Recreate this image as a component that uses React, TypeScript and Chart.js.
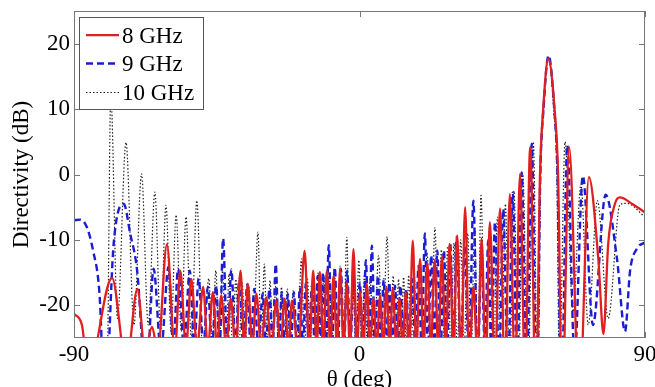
import React, { useEffect, useRef } from 'react';
import { Chart, registerables } from 'chart.js';

Chart.register(...registerables);

const xTicks = [-90, 0, 90];
const yTicks = [-20, -10, 0, 10, 20];
const seriesLabels = ['8 GHz', '9 GHz', '10 GHz'];

// [theta (deg), directivity (dB)]
const dir8GHz: [number, number][] = [
  [-90, -21.3], [-87.5, -23], [-85.5, -30], [-78, -15.8], [-73.5, -29], [-70, -17.5], [-67.6, -27], [-65.4, -23.3],
  [-63.6, -27], [-60.7, -10.7], [-58.2, -27], [-56.5, -14.7], [-54.7, -26.5], [-53, -16], [-51.2, -26.5], [-49.3, -17.2],
  [-47.8, -26.5], [-46.2, -18], [-44.9, -26.5], [-43.6, -18.5], [-42, -26.5], [-40.6, -19], [-39, -27], [-37.5, -14.7],
  [-36.3, -26.5], [-35.2, -16.7], [-33.8, -26.5], [-32.5, -18.2], [-31, -26.5], [-29.4, -18.8], [-27.8, -26.5], [-26.2, -19.3],
  [-24.9, -26.5], [-23.6, -19], [-22.4, -26.5], [-21.3, -19.3], [-19.3, -27], [-17.3, -11.7], [-15.8, -27], [-14.6, -14.7],
  [-13.5, -26.5], [-12.5, -14.9], [-11.4, -26.5], [-10.3, -14.7], [-9.2, -26.5], [-8.2, -15.5], [-7.1, -26.5], [-6.1, -14.4],
  [-5, -26.5], [-4, -16.5], [-3, -27], [-1.9, -11.4], [-0.8, -27], [0.2, -18], [1.2, -26.5], [2.3, -16.7], [3.3, -26.5],
  [4.4, -19], [5.4, -26.5], [6.5, -18.5], [7.5, -26.5], [8.5, -17.2], [9.5, -26.5], [10.5, -17.4], [11.6, -26.5], [12.6, -19],
  [13.6, -26.5], [14.6, -18], [15.6, -27], [16.8, -10.1], [17.9, -27], [19.1, -12.9], [20.2, -26.5], [21.4, -13.5],
  [22.5, -26.5], [23.7, -13.1], [24.8, -26.5], [26, -12.6], [27.2, -27], [28.4, -10.6], [29.6, -27], [30.8, -9.3],
  [32, -29], [33.3, -5], [34.6, -29], [35.9, -17.2], [37.2, -28], [38.5, -9.8], [39.8, -29], [41.1, -7.3], [42.7, -30],
  [44.3, -5.2], [45.8, -31], [47.4, -3], [49, -31], [50.6, 0.1], [52.2, -32], [53.8, 4.2], [55.6, -35], [56.9, 0],
  [57.9, 10], [59.5, 17.7], [61.5, 10], [62.6, 0], [63.9, -35], [66.1, 4.2], [69.3, -35], [72.3, -0.4], [75.3, -13],
  [76.9, -24.4], [78.4, -10.6], [80.5, -4.5], [82.1, -3.5], [86, -4.5], [90, -5.8],
];

const dir9GHz: [number, number][] = [
  [-90, -7], [-88, -6.9], [-86, -8], [-84, -11.6], [-82, -18], [-80.2, -35], [-77.5, -10.6], [-74.3, -4.5],
  [-72.3, -9], [-70.1, -14.7], [-67.2, -32], [-64.9, -14.4], [-62.6, -27], [-60.2, -14.1], [-58.7, -26.5], [-57.2, -14.4],
  [-55.3, -26.5], [-53.5, -14.7], [-52.1, -26.5], [-50.7, -15.9], [-49.2, -26.5], [-47.8, -17.2], [-46.5, -26.5], [-45.2, -17],
  [-44.1, -27], [-43, -9.8], [-41.7, -27], [-40.4, -14.5], [-39.1, -26.5], [-37.9, -16], [-36.6, -26.5], [-35.4, -16.8],
  [-34.3, -26.5], [-33.2, -17.5], [-31.9, -26.5], [-30.5, -18.2], [-29.5, -26.5], [-28.4, -17.5], [-27.4, -26.5], [-26.4, -13.7],
  [-25.4, -26.5], [-24.5, -18], [-23.5, -26.5], [-22.6, -18.3], [-21.6, -26.5], [-20.7, -18], [-19.7, -26.5], [-18.8, -17.2],
  [-17.8, -26.5], [-16.9, -16.5], [-16, -26.5], [-15, -17], [-14.1, -26.5], [-13.2, -15.5], [-12.3, -26.5], [-11.5, -15],
  [-10.6, -27], [-9.7, -10.8], [-8.7, -27], [-7.8, -14.2], [-6.8, -26.5], [-5.9, -14.4], [-4.9, -26.5], [-3.9, -14.7],
  [-2.9, -26.5], [-1.9, -15.5], [-0.9, -26.5], [0.1, -16.5], [1.1, -26.5], [2, -13.1], [3, -27], [3.9, -10.9], [4.9, -27],
  [5.8, -15.5], [6.7, -26.5], [7.6, -16], [8.5, -26.5], [9.4, -16.5], [10.3, -26.5], [11.2, -17], [12.1, -26.5], [12.9, -17],
  [13.8, -26.5], [14.7, -17.5], [15.7, -26.5], [16.6, -16], [17.6, -26.5], [18.6, -14], [19.6, -27], [20.6, -9], [21.6, -27],
  [22.6, -12.4], [23.6, -26.5], [24.5, -11.6], [25.6, -26.5], [26.6, -11.6], [27.6, -27], [28.6, -10.5], [29.6, -27],
  [30.6, -9.6], [31.9, -27], [33.2, -11], [34.5, -29], [35.9, -4], [37.2, -29], [38.5, -12], [39.5, -27], [40.6, -10],
  [41.6, -29], [42.7, -7.3], [44, -30], [45.3, -5.3], [46.8, -31], [48.3, -2.8], [49.7, -31], [51.1, 0.3], [52.7, -32],
  [54.3, 4.7], [55.9, -35], [57, 0], [58, 10], [59.6, 18.2], [61.4, 10], [62.4, 0], [63.6, -35], [65.5, 4.5],
  [67.8, -28], [70.4, -0.2], [73.6, -23], [77.6, -3.1], [81.2, -13], [83.7, -24], [85.3, -14.7], [87.5, -11.3],
  [90, -10.4],
];

const dir10GHz: [number, number][] = [
  [-90, -32], [-86, -27], [-82.5, -40], [-79.6, -32], [-78.4, 12], [-76.3, -22], [-73.6, 4.9], [-71.1, -23],
  [-68.7, 0.1], [-66.6, -23], [-64.5, -2.7], [-62.7, -24], [-61, -4.7], [-59.4, -24], [-57.8, -6.2], [-56.2, -24],
  [-54.7, -6.5], [-53, -25], [-51.3, -4], [-49.4, -27], [-47.5, -15.9], [-46.4, -26.5], [-45.3, -14.7], [-44.2, -26.5],
  [-43.2, -14.7], [-42.1, -26.5], [-41.1, -15.2], [-40, -26.5], [-39, -16], [-38, -26.5], [-37, -16.5], [-36, -26.5],
  [-35, -17], [-33.6, -27], [-32, -8.8], [-31, -27], [-30, -13.7], [-29.1, -26.5], [-28.2, -16.2], [-27.3, -26.5],
  [-26.4, -17], [-25.5, -26.5], [-24.6, -17.2], [-23.7, -26.5], [-22.8, -17.5], [-21.9, -26.5], [-20.9, -17.7], [-19.6, -27],
  [-18.3, -12.9], [-17.3, -27], [-16.4, -16], [-15.5, -26.5], [-14.7, -15.5], [-13.8, -26.5], [-13, -15], [-12.1, -26.5],
  [-11.3, -15.5], [-10.4, -26.5], [-9.6, -15], [-8.7, -26.5], [-7.9, -14.5], [-7, -26.5], [-6.1, -14], [-5.1, -27],
  [-4, -9.6], [-3.1, -27], [-2.2, -14.5], [-1.2, -26.5], [-0.2, -13.1], [0.7, -26.5], [1.6, -15], [2.5, -26.5], [3.3, -16],
  [4.6, -27], [6, -12.4], [7.3, -27], [8.7, -9.5], [9.7, -27], [10.6, -15.5], [11.5, -26.5], [12.3, -16], [13.1, -26.5],
  [13.9, -15.7], [14.7, -26.5], [15.5, -15.4], [16.3, -26.5], [17.2, -14.5], [18.1, -26.5], [19.1, -13], [20.2, -26.5],
  [21.3, -12], [22.5, -27], [23.8, -8.1], [24.8, -27], [25.8, -11.5], [26.8, -26.5], [27.8, -11], [28.8, -27],
  [29.8, -10.5], [30.8, -27], [31.9, -10], [33, -27], [34.1, -9], [35.2, -27], [36.3, -8], [37.3, -29], [38.3, -3.2],
  [39.6, -29], [41, -8], [42.2, -29], [43.5, -6.5], [44.7, -30], [46, -4.5], [47.3, -31], [48.7, -2.5], [50.1, -31],
  [51.5, 0], [53.1, -32], [54.8, 5], [56.2, -35], [57.1, 0], [58.1, 10], [59.5, 18], [61.2, 10], [62.2, 0], [63, -30],
  [64.8, 5], [67.3, -21], [69.8, -1.5], [72.1, -23], [75, -4], [78.4, -22], [82.1, -4.6], [84.2, -4.4], [90, -6.5],
];

const FONT = '"Liberation Serif", "Times New Roman", serif';

const seriesStyles = [
  { color: '#e02020', width: 2.3, dash: [] as number[] },
  { color: '#1c1cd4', width: 2.4, dash: [7, 4] },
  { color: '#222222', width: 1.2, dash: [1.5, 2] },
];

const frameLegendPlugin = {
  id: 'frameLegend',
  afterDraw(chart: any) {
    const { ctx, chartArea: a, scales } = chart;
    const xs = scales.x;
    const ys = scales.y;
    ctx.save();
    ctx.strokeStyle = '#777';
    ctx.lineWidth = 1;
    ctx.setLineDash([]);
    ctx.strokeRect(a.left + 0.5, a.top + 0.5, a.right - a.left - 1, a.bottom - a.top - 1);
    const tl = 6;
    ctx.beginPath();
    xTicks.forEach((v) => {
      const px = Math.round(xs.getPixelForValue(v)) + 0.5;
      ctx.moveTo(px, a.bottom);
      ctx.lineTo(px, a.bottom - tl);
      ctx.moveTo(px, a.top);
      ctx.lineTo(px, a.top + tl);
    });
    yTicks.forEach((v) => {
      const py = Math.round(ys.getPixelForValue(v)) + 0.5;
      ctx.moveTo(a.left, py);
      ctx.lineTo(a.left + tl, py);
      ctx.moveTo(a.right, py);
      ctx.lineTo(a.right - tl, py);
    });
    ctx.stroke();

    const lx = a.left + 5;
    const ly = a.top + 6;
    const lw = 124;
    const lh = 92;
    ctx.fillStyle = '#fff';
    ctx.fillRect(lx, ly, lw, lh);
    ctx.strokeStyle = '#555';
    ctx.strokeRect(lx + 0.5, ly + 0.5, lw, lh);
    const baselines = [25.7, 54, 83];
    ctx.font = `23px ${FONT}`;
    ctx.textBaseline = 'alphabetic';
    ctx.textAlign = 'left';
    seriesLabels.forEach((label, i) => {
      const st = seriesStyles[i];
      const by = ly + baselines[i];
      const midY = by - 7.5;
      ctx.strokeStyle = st.color;
      ctx.lineWidth = st.width;
      ctx.setLineDash(st.dash);
      ctx.beginPath();
      ctx.moveTo(lx + 7, midY);
      ctx.lineTo(lx + 40, midY);
      ctx.stroke();
      ctx.setLineDash([]);
      ctx.fillStyle = '#000';
      ctx.fillText(label, lx + 43, by);
    });
    ctx.restore();
  },
};

export default function App() {
  const ref = useRef<HTMLCanvasElement>(null);
  useEffect(() => {
    const all = [dir8GHz, dir9GHz, dir10GHz];
    const chart = new Chart(ref.current as HTMLCanvasElement, {
      type: 'line',
      data: {
        datasets: all.map((d, i) => ({
          label: seriesLabels[i],
          data: d.map(([x, y]) => ({ x, y })),
          borderColor: seriesStyles[i].color,
          borderWidth: seriesStyles[i].width,
          borderDash: seriesStyles[i].dash,
          pointRadius: 0,
          fill: false,
          cubicInterpolationMode: 'monotone' as const,
        })),
      },
      options: {
        responsive: false,
        animation: false,
        devicePixelRatio: 1,
        layout: { padding: { top: 11, right: 10, left: 0, bottom: 0 } },
        elements: { line: { capBezierPoints: false } as any, point: { radius: 0 } },
        plugins: { legend: { display: false }, tooltip: { enabled: false } },
        scales: {
          x: {
            type: 'linear',
            min: -90,
            max: 90,
            grid: { display: false, drawTicks: false },
            border: { display: false },
            afterBuildTicks: (s: any) => {
              s.ticks = xTicks.map((v) => ({ value: v }));
            },
            afterFit: (s: any) => {
              s.height = 49;
              s.paddingLeft = 0;
              s.paddingRight = 0;
            },
            ticks: { font: { family: FONT, size: 23 }, color: '#000', padding: 3, maxRotation: 0, autoSkip: false },
            title: {
              display: true,
              text: 'θ (deg)',
              color: '#000',
              font: { family: FONT, size: 23, lineHeight: '15px' },
              padding: { top: 0, bottom: 0 },
            },
          },
          y: {
            type: 'linear',
            min: -25,
            max: 25,
            grid: { display: false, drawTicks: false },
            border: { display: false },
            afterBuildTicks: (s: any) => {
              s.ticks = yTicks.map((v) => ({ value: v }));
            },
            afterFit: (s: any) => {
              s.width = 74;
              s.paddingTop = 0;
              s.paddingBottom = 0;
            },
            ticks: { font: { family: FONT, size: 23 }, color: '#000', padding: 4, autoSkip: false },
            title: {
              display: true,
              text: 'Directivity (dB)',
              color: '#000',
              font: { family: FONT, size: 23 },
              padding: { top: 8, bottom: 0 },
            },
          },
        },
      } as any,
      plugins: [frameLegendPlugin],
    });
    return () => chart.destroy();
  }, []);
  return (
    <div style={{ position: 'absolute', left: 0, top: 0, width: 655, height: 387, background: '#fff' }}>
      <canvas ref={ref} width={655} height={387} style={{ display: 'block' }} />
    </div>
  );
}
